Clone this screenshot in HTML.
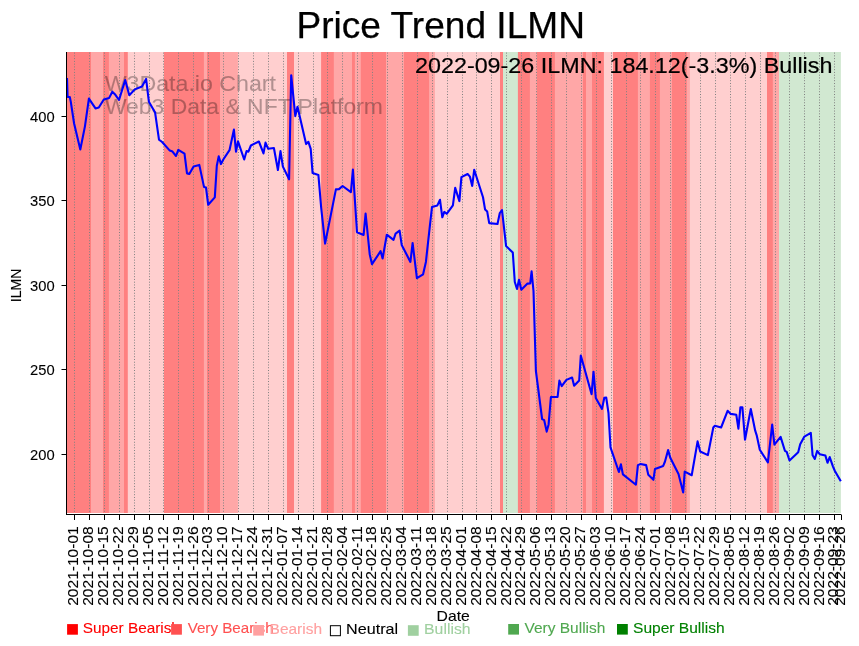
<!DOCTYPE html><html><head><meta charset="utf-8"><style>html,body{margin:0;padding:0;background:#fff;width:859px;height:646px;overflow:hidden;position:relative}</style></head><body><svg width="859" height="646" viewBox="0 0 859 646" style="position:absolute;left:0;top:0;will-change:transform" font-family='"Liberation Sans", sans-serif'>
<rect x="0" y="0" width="859" height="646" fill="#fff"/>
<rect x="67.00" y="52.0" width="25.00" height="461.0" fill="#ff8080"/>
<rect x="91.00" y="52.0" width="13.00" height="461.0" fill="#ffa7a7"/>
<rect x="103.00" y="52.0" width="6.90" height="461.0" fill="#ff8080"/>
<rect x="108.90" y="52.0" width="16.10" height="461.0" fill="#ffa7a7"/>
<rect x="124.00" y="52.0" width="4.80" height="461.0" fill="#ff8080"/>
<rect x="127.80" y="52.0" width="37.20" height="461.0" fill="#ffcfcf"/>
<rect x="164.00" y="52.0" width="40.90" height="461.0" fill="#ff8080"/>
<rect x="203.90" y="52.0" width="4.10" height="461.0" fill="#ffa7a7"/>
<rect x="207.00" y="52.0" width="14.00" height="461.0" fill="#ff8080"/>
<rect x="220.00" y="52.0" width="18.90" height="461.0" fill="#ffa7a7"/>
<rect x="237.90" y="52.0" width="50.10" height="461.0" fill="#ffcfcf"/>
<rect x="287.00" y="52.0" width="8.00" height="461.0" fill="#ff8080"/>
<rect x="294.00" y="52.0" width="28.10" height="461.0" fill="#ffcfcf"/>
<rect x="321.10" y="52.0" width="13.70" height="461.0" fill="#ff8080"/>
<rect x="333.80" y="52.0" width="19.20" height="461.0" fill="#ffa7a7"/>
<rect x="352.00" y="52.0" width="3.90" height="461.0" fill="#ff8080"/>
<rect x="354.90" y="52.0" width="6.90" height="461.0" fill="#ffa7a7"/>
<rect x="360.80" y="52.0" width="26.20" height="461.0" fill="#ff8080"/>
<rect x="386.00" y="52.0" width="18.90" height="461.0" fill="#ffa7a7"/>
<rect x="403.90" y="52.0" width="26.20" height="461.0" fill="#ff8080"/>
<rect x="429.10" y="52.0" width="6.80" height="461.0" fill="#ffa7a7"/>
<rect x="434.90" y="52.0" width="66.10" height="461.0" fill="#ffcfcf"/>
<rect x="500.00" y="52.0" width="4.00" height="461.0" fill="#ff8080"/>
<rect x="503.00" y="52.0" width="15.90" height="461.0" fill="#d1e8d1"/>
<rect x="517.90" y="52.0" width="13.00" height="461.0" fill="#ff8080"/>
<rect x="529.90" y="52.0" width="8.00" height="461.0" fill="#ffa7a7"/>
<rect x="536.90" y="52.0" width="19.00" height="461.0" fill="#ff8080"/>
<rect x="554.90" y="52.0" width="29.00" height="461.0" fill="#ffa7a7"/>
<rect x="582.90" y="52.0" width="4.10" height="461.0" fill="#ff8080"/>
<rect x="586.00" y="52.0" width="7.00" height="461.0" fill="#ffa7a7"/>
<rect x="592.00" y="52.0" width="12.90" height="461.0" fill="#ff8080"/>
<rect x="603.90" y="52.0" width="10.10" height="461.0" fill="#ffcfcf"/>
<rect x="613.00" y="52.0" width="25.90" height="461.0" fill="#ff8080"/>
<rect x="637.90" y="52.0" width="13.00" height="461.0" fill="#ffa7a7"/>
<rect x="649.90" y="52.0" width="11.00" height="461.0" fill="#ff8080"/>
<rect x="659.90" y="52.0" width="13.00" height="461.0" fill="#ffa7a7"/>
<rect x="671.90" y="52.0" width="15.90" height="461.0" fill="#ff8080"/>
<rect x="686.80" y="52.0" width="4.10" height="461.0" fill="#ffa7a7"/>
<rect x="689.90" y="52.0" width="78.10" height="461.0" fill="#ffcfcf"/>
<rect x="767.00" y="52.0" width="6.80" height="461.0" fill="#ff8080"/>
<rect x="772.80" y="52.0" width="7.20" height="461.0" fill="#ffa7a7"/>
<rect x="779.00" y="52.0" width="61.90" height="461.0" fill="#d1e8d1"/>
<g fill="#000" stroke="#000" stroke-width="0.3" opacity="0.3" font-size="21.3">
<text x="104.72" y="90.7" textLength="171.2" lengthAdjust="spacingAndGlyphs" stroke="#000" stroke-width="0.1">W3Data.io Chart</text>
<text x="104.92" y="113.5" textLength="278" lengthAdjust="spacingAndGlyphs" stroke="#000" stroke-width="0.1">Web3 Data &amp; NFT Platform</text>
</g>
<path d="M74.50 52.0V513.0M89.50 52.0V513.0M104.50 52.0V513.0M119.50 52.0V513.0M134.50 52.0V513.0M149.50 52.0V513.0M163.50 52.0V513.0M178.50 52.0V513.0M193.50 52.0V513.0M208.50 52.0V513.0M223.50 52.0V513.0M238.50 52.0V513.0M253.50 52.0V513.0M268.50 52.0V513.0M283.50 52.0V513.0M298.50 52.0V513.0M313.50 52.0V513.0M327.50 52.0V513.0M342.50 52.0V513.0M357.50 52.0V513.0M372.50 52.0V513.0M387.50 52.0V513.0M402.50 52.0V513.0M417.50 52.0V513.0M432.50 52.0V513.0M447.50 52.0V513.0M462.50 52.0V513.0M476.50 52.0V513.0M491.50 52.0V513.0M506.50 52.0V513.0M521.50 52.0V513.0M536.50 52.0V513.0M551.50 52.0V513.0M566.50 52.0V513.0M581.50 52.0V513.0M596.50 52.0V513.0M611.50 52.0V513.0M626.50 52.0V513.0M640.50 52.0V513.0M655.50 52.0V513.0M670.50 52.0V513.0M685.50 52.0V513.0M700.50 52.0V513.0M715.50 52.0V513.0M730.50 52.0V513.0M745.50 52.0V513.0M760.50 52.0V513.0M775.50 52.0V513.0M789.50 52.0V513.0M804.50 52.0V513.0M819.50 52.0V513.0M834.50 52.0V513.0" stroke="#808080" stroke-width="1" stroke-dasharray="1 1.76" stroke-dashoffset="-0.6" fill="none"/>
<polyline points="67.0,78.0 67.6,97.0 69.8,97.0 70.8,101.9 74.1,123.5 80.3,149.5 84.9,126.6 88.9,98.6 95.5,108.4 98.8,107.5 103.8,99.5 109.2,97.9 112.3,91.7 115.4,94.8 119.0,100.0 125.2,80.1 129.3,95.3 134.8,89.4 142.0,86.5 146.1,78.9 148.9,101.8 155.1,112.6 159.0,139.7 162.1,142.0 169.8,150.6 172.5,151.6 176.0,156.0 178.3,149.8 184.5,153.7 187.0,173.4 189.3,173.9 193.6,166.4 199.3,164.9 204.0,186.9 206.0,187.6 208.2,204.8 214.8,197.4 216.8,165.7 218.7,156.4 221.0,164.1 223.3,159.5 229.5,150.2 233.9,129.6 236.0,151.7 238.0,141.4 244.2,159.5 246.6,151.0 248.4,151.7 250.9,145.5 258.9,141.5 263.5,153.4 265.5,142.6 268.2,148.8 273.9,148.0 277.9,170.0 280.5,151.1 282.9,166.6 289.1,179.3 291.2,75.2 295.3,116.1 297.5,106.8 306.1,144.1 308.4,141.8 310.7,148.8 312.6,173.1 318.4,175.0 321.2,208.0 325.1,243.6 335.9,189.4 339.0,189.1 342.6,186.0 350.9,192.2 352.9,169.6 357.0,232.3 363.6,234.9 365.6,213.5 369.7,254.2 372.0,264.2 380.6,251.2 382.6,258.5 386.8,234.7 393.5,239.8 395.6,233.7 399.6,230.7 401.7,244.9 410.4,261.9 412.6,243.0 416.9,278.2 423.1,274.3 425.9,261.9 430.5,220.1 432.0,207.0 437.4,205.4 440.0,199.8 442.3,217.3 444.3,211.9 446.7,213.8 452.9,205.4 455.2,187.9 459.4,201.1 461.4,177.1 467.6,174.0 469.9,176.6 472.2,185.9 474.2,169.8 483.0,197.2 485.1,209.6 487.2,211.6 489.2,223.1 497.5,224.0 499.8,213.0 502.0,210.0 506.1,246.1 512.8,252.6 514.8,282.0 517.0,289.0 519.0,279.7 521.3,289.8 527.5,283.6 530.2,283.4 531.6,271.3 533.5,291.0 535.9,371.0 542.1,419.0 544.2,420.2 546.7,431.6 548.6,424.4 550.9,397.0 557.6,397.0 559.4,380.6 561.7,386.1 566.4,379.9 572.1,377.5 574.1,385.7 579.2,380.6 580.8,355.5 591.6,394.2 593.5,371.7 595.8,398.0 602.0,408.9 604.3,397.8 606.2,397.5 608.5,413.2 610.5,447.3 618.9,472.0 620.9,464.3 622.9,474.4 635.9,484.7 637.9,465.1 640.6,464.0 646.1,465.1 648.3,474.8 653.4,479.8 655.0,468.9 663.2,465.9 665.0,461.5 668.1,450.1 670.4,458.1 678.5,474.0 683.2,492.5 684.7,471.6 691.7,475.2 697.6,441.4 700.2,451.5 707.9,455.1 713.3,427.5 714.9,425.7 721.1,427.5 727.6,410.8 730.7,413.9 736.3,414.8 738.4,428.7 740.4,407.4 742.4,407.4 745.0,439.7 750.8,409.0 755.2,430.7 756.7,435.3 759.8,449.7 767.9,462.4 772.2,424.5 774.4,444.6 780.6,436.9 784.9,450.8 786.7,451.9 789.5,460.5 798.2,452.2 800.2,444.2 804.4,436.6 810.8,432.9 812.6,455.3 814.8,459.0 817.2,450.9 819.7,454.2 825.4,455.6 827.5,462.8 829.7,457.1 833.0,466.6 834.9,471.0 840.8,481.2" fill="none" stroke="#0000ff" stroke-width="2.1" stroke-linejoin="round" stroke-linecap="butt"/>
<path d="M66.5 52.0V515.0M66.0 514.5H841.5" stroke="#000" stroke-width="1" fill="none"/>
<path d="M74.50 515V520M89.50 515V520M104.50 515V520M119.50 515V520M134.50 515V520M149.50 515V520M163.50 515V520M178.50 515V520M193.50 515V520M208.50 515V520M223.50 515V520M238.50 515V520M253.50 515V520M268.50 515V520M283.50 515V520M298.50 515V520M313.50 515V520M327.50 515V520M342.50 515V520M357.50 515V520M372.50 515V520M387.50 515V520M402.50 515V520M417.50 515V520M432.50 515V520M447.50 515V520M462.50 515V520M476.50 515V520M491.50 515V520M506.50 515V520M521.50 515V520M536.50 515V520M551.50 515V520M566.50 515V520M581.50 515V520M596.50 515V520M611.50 515V520M626.50 515V520M640.50 515V520M655.50 515V520M670.50 515V520M685.50 515V520M700.50 515V520M715.50 515V520M730.50 515V520M745.50 515V520M760.50 515V520M775.50 515V520M789.50 515V520M804.50 515V520M819.50 515V520M834.50 515V520M841.50 515V520" stroke="#000" stroke-width="1" fill="none"/>
<text x="30.14" y="459.70" font-size="14.3" textLength="24.58" lengthAdjust="spacingAndGlyphs" stroke="#000" stroke-width="0.1">200</text>
<text x="30.14" y="375.23" font-size="14.3" textLength="24.58" lengthAdjust="spacingAndGlyphs" stroke="#000" stroke-width="0.1">250</text>
<text x="30.14" y="290.75" font-size="14.3" textLength="24.58" lengthAdjust="spacingAndGlyphs" stroke="#000" stroke-width="0.1">300</text>
<text x="30.14" y="206.28" font-size="14.3" textLength="24.58" lengthAdjust="spacingAndGlyphs" stroke="#000" stroke-width="0.1">350</text>
<text x="30.14" y="121.80" font-size="14.3" textLength="24.58" lengthAdjust="spacingAndGlyphs" stroke="#000" stroke-width="0.1">400</text>
<path d="M61.5 454.50H66.5M61.5 369.50H66.5M61.5 285.50H66.5M61.5 200.50H66.5M61.5 116.50H66.5" stroke="#000" stroke-width="1.1" fill="none"/>
<text transform="translate(78.30,605.8) rotate(-90)" font-size="14.3" textLength="79.54" lengthAdjust="spacingAndGlyphs" stroke="#000" stroke-width="0.1">2021-10-01</text>
<text transform="translate(93.21,605.8) rotate(-90)" font-size="14.3" textLength="79.54" lengthAdjust="spacingAndGlyphs" stroke="#000" stroke-width="0.1">2021-10-08</text>
<text transform="translate(108.11,605.8) rotate(-90)" font-size="14.3" textLength="79.54" lengthAdjust="spacingAndGlyphs" stroke="#000" stroke-width="0.1">2021-10-15</text>
<text transform="translate(123.02,605.8) rotate(-90)" font-size="14.3" textLength="79.54" lengthAdjust="spacingAndGlyphs" stroke="#000" stroke-width="0.1">2021-10-22</text>
<text transform="translate(137.92,605.8) rotate(-90)" font-size="14.3" textLength="79.54" lengthAdjust="spacingAndGlyphs" stroke="#000" stroke-width="0.1">2021-10-29</text>
<text transform="translate(152.83,605.8) rotate(-90)" font-size="14.3" textLength="79.54" lengthAdjust="spacingAndGlyphs" stroke="#000" stroke-width="0.1">2021-11-05</text>
<text transform="translate(167.73,605.8) rotate(-90)" font-size="14.3" textLength="79.54" lengthAdjust="spacingAndGlyphs" stroke="#000" stroke-width="0.1">2021-11-12</text>
<text transform="translate(182.64,605.8) rotate(-90)" font-size="14.3" textLength="79.54" lengthAdjust="spacingAndGlyphs" stroke="#000" stroke-width="0.1">2021-11-19</text>
<text transform="translate(197.54,605.8) rotate(-90)" font-size="14.3" textLength="79.54" lengthAdjust="spacingAndGlyphs" stroke="#000" stroke-width="0.1">2021-11-26</text>
<text transform="translate(212.45,605.8) rotate(-90)" font-size="14.3" textLength="79.54" lengthAdjust="spacingAndGlyphs" stroke="#000" stroke-width="0.1">2021-12-03</text>
<text transform="translate(227.35,605.8) rotate(-90)" font-size="14.3" textLength="79.54" lengthAdjust="spacingAndGlyphs" stroke="#000" stroke-width="0.1">2021-12-10</text>
<text transform="translate(242.26,605.8) rotate(-90)" font-size="14.3" textLength="79.54" lengthAdjust="spacingAndGlyphs" stroke="#000" stroke-width="0.1">2021-12-17</text>
<text transform="translate(257.16,605.8) rotate(-90)" font-size="14.3" textLength="79.54" lengthAdjust="spacingAndGlyphs" stroke="#000" stroke-width="0.1">2021-12-24</text>
<text transform="translate(272.07,605.8) rotate(-90)" font-size="14.3" textLength="79.54" lengthAdjust="spacingAndGlyphs" stroke="#000" stroke-width="0.1">2021-12-31</text>
<text transform="translate(286.97,605.8) rotate(-90)" font-size="14.3" textLength="79.54" lengthAdjust="spacingAndGlyphs" stroke="#000" stroke-width="0.1">2022-01-07</text>
<text transform="translate(301.88,605.8) rotate(-90)" font-size="14.3" textLength="79.54" lengthAdjust="spacingAndGlyphs" stroke="#000" stroke-width="0.1">2022-01-14</text>
<text transform="translate(316.78,605.8) rotate(-90)" font-size="14.3" textLength="79.54" lengthAdjust="spacingAndGlyphs" stroke="#000" stroke-width="0.1">2022-01-21</text>
<text transform="translate(331.69,605.8) rotate(-90)" font-size="14.3" textLength="79.54" lengthAdjust="spacingAndGlyphs" stroke="#000" stroke-width="0.1">2022-01-28</text>
<text transform="translate(346.59,605.8) rotate(-90)" font-size="14.3" textLength="79.54" lengthAdjust="spacingAndGlyphs" stroke="#000" stroke-width="0.1">2022-02-04</text>
<text transform="translate(361.50,605.8) rotate(-90)" font-size="14.3" textLength="79.54" lengthAdjust="spacingAndGlyphs" stroke="#000" stroke-width="0.1">2022-02-11</text>
<text transform="translate(376.40,605.8) rotate(-90)" font-size="14.3" textLength="79.54" lengthAdjust="spacingAndGlyphs" stroke="#000" stroke-width="0.1">2022-02-18</text>
<text transform="translate(391.31,605.8) rotate(-90)" font-size="14.3" textLength="79.54" lengthAdjust="spacingAndGlyphs" stroke="#000" stroke-width="0.1">2022-02-25</text>
<text transform="translate(406.21,605.8) rotate(-90)" font-size="14.3" textLength="79.54" lengthAdjust="spacingAndGlyphs" stroke="#000" stroke-width="0.1">2022-03-04</text>
<text transform="translate(421.12,605.8) rotate(-90)" font-size="14.3" textLength="79.54" lengthAdjust="spacingAndGlyphs" stroke="#000" stroke-width="0.1">2022-03-11</text>
<text transform="translate(436.02,605.8) rotate(-90)" font-size="14.3" textLength="79.54" lengthAdjust="spacingAndGlyphs" stroke="#000" stroke-width="0.1">2022-03-18</text>
<text transform="translate(450.93,605.8) rotate(-90)" font-size="14.3" textLength="79.54" lengthAdjust="spacingAndGlyphs" stroke="#000" stroke-width="0.1">2022-03-25</text>
<text transform="translate(465.83,605.8) rotate(-90)" font-size="14.3" textLength="79.54" lengthAdjust="spacingAndGlyphs" stroke="#000" stroke-width="0.1">2022-04-01</text>
<text transform="translate(480.74,605.8) rotate(-90)" font-size="14.3" textLength="79.54" lengthAdjust="spacingAndGlyphs" stroke="#000" stroke-width="0.1">2022-04-08</text>
<text transform="translate(495.64,605.8) rotate(-90)" font-size="14.3" textLength="79.54" lengthAdjust="spacingAndGlyphs" stroke="#000" stroke-width="0.1">2022-04-15</text>
<text transform="translate(510.55,605.8) rotate(-90)" font-size="14.3" textLength="79.54" lengthAdjust="spacingAndGlyphs" stroke="#000" stroke-width="0.1">2022-04-22</text>
<text transform="translate(525.45,605.8) rotate(-90)" font-size="14.3" textLength="79.54" lengthAdjust="spacingAndGlyphs" stroke="#000" stroke-width="0.1">2022-04-29</text>
<text transform="translate(540.36,605.8) rotate(-90)" font-size="14.3" textLength="79.54" lengthAdjust="spacingAndGlyphs" stroke="#000" stroke-width="0.1">2022-05-06</text>
<text transform="translate(555.26,605.8) rotate(-90)" font-size="14.3" textLength="79.54" lengthAdjust="spacingAndGlyphs" stroke="#000" stroke-width="0.1">2022-05-13</text>
<text transform="translate(570.17,605.8) rotate(-90)" font-size="14.3" textLength="79.54" lengthAdjust="spacingAndGlyphs" stroke="#000" stroke-width="0.1">2022-05-20</text>
<text transform="translate(585.07,605.8) rotate(-90)" font-size="14.3" textLength="79.54" lengthAdjust="spacingAndGlyphs" stroke="#000" stroke-width="0.1">2022-05-27</text>
<text transform="translate(599.98,605.8) rotate(-90)" font-size="14.3" textLength="79.54" lengthAdjust="spacingAndGlyphs" stroke="#000" stroke-width="0.1">2022-06-03</text>
<text transform="translate(614.88,605.8) rotate(-90)" font-size="14.3" textLength="79.54" lengthAdjust="spacingAndGlyphs" stroke="#000" stroke-width="0.1">2022-06-10</text>
<text transform="translate(629.79,605.8) rotate(-90)" font-size="14.3" textLength="79.54" lengthAdjust="spacingAndGlyphs" stroke="#000" stroke-width="0.1">2022-06-17</text>
<text transform="translate(644.69,605.8) rotate(-90)" font-size="14.3" textLength="79.54" lengthAdjust="spacingAndGlyphs" stroke="#000" stroke-width="0.1">2022-06-24</text>
<text transform="translate(659.60,605.8) rotate(-90)" font-size="14.3" textLength="79.54" lengthAdjust="spacingAndGlyphs" stroke="#000" stroke-width="0.1">2022-07-01</text>
<text transform="translate(674.50,605.8) rotate(-90)" font-size="14.3" textLength="79.54" lengthAdjust="spacingAndGlyphs" stroke="#000" stroke-width="0.1">2022-07-08</text>
<text transform="translate(689.41,605.8) rotate(-90)" font-size="14.3" textLength="79.54" lengthAdjust="spacingAndGlyphs" stroke="#000" stroke-width="0.1">2022-07-15</text>
<text transform="translate(704.31,605.8) rotate(-90)" font-size="14.3" textLength="79.54" lengthAdjust="spacingAndGlyphs" stroke="#000" stroke-width="0.1">2022-07-22</text>
<text transform="translate(719.22,605.8) rotate(-90)" font-size="14.3" textLength="79.54" lengthAdjust="spacingAndGlyphs" stroke="#000" stroke-width="0.1">2022-07-29</text>
<text transform="translate(734.12,605.8) rotate(-90)" font-size="14.3" textLength="79.54" lengthAdjust="spacingAndGlyphs" stroke="#000" stroke-width="0.1">2022-08-05</text>
<text transform="translate(749.03,605.8) rotate(-90)" font-size="14.3" textLength="79.54" lengthAdjust="spacingAndGlyphs" stroke="#000" stroke-width="0.1">2022-08-12</text>
<text transform="translate(763.93,605.8) rotate(-90)" font-size="14.3" textLength="79.54" lengthAdjust="spacingAndGlyphs" stroke="#000" stroke-width="0.1">2022-08-19</text>
<text transform="translate(778.84,605.8) rotate(-90)" font-size="14.3" textLength="79.54" lengthAdjust="spacingAndGlyphs" stroke="#000" stroke-width="0.1">2022-08-26</text>
<text transform="translate(793.74,605.8) rotate(-90)" font-size="14.3" textLength="79.54" lengthAdjust="spacingAndGlyphs" stroke="#000" stroke-width="0.1">2022-09-02</text>
<text transform="translate(808.65,605.8) rotate(-90)" font-size="14.3" textLength="79.54" lengthAdjust="spacingAndGlyphs" stroke="#000" stroke-width="0.1">2022-09-09</text>
<text transform="translate(823.56,605.8) rotate(-90)" font-size="14.3" textLength="79.54" lengthAdjust="spacingAndGlyphs" stroke="#000" stroke-width="0.1">2022-09-16</text>
<text transform="translate(838.46,605.8) rotate(-90)" font-size="14.3" textLength="79.54" lengthAdjust="spacingAndGlyphs" stroke="#000" stroke-width="0.1">2022-09-23</text>
<text transform="translate(844.85,605.8) rotate(-90)" font-size="14.3" textLength="79.54" lengthAdjust="spacingAndGlyphs" stroke="#000" stroke-width="0.1">2022-09-26</text>
<text transform="translate(20.9,302.2) rotate(-90)" font-size="14.3" textLength="33.68" lengthAdjust="spacingAndGlyphs" stroke="#000" stroke-width="0.1">ILMN</text>
<text x="436.6" y="620.9" font-size="14.3" textLength="33.17" lengthAdjust="spacingAndGlyphs" stroke="#000" stroke-width="0.1">Date</text>
<text x="296.51" y="38.1" font-size="36" textLength="288.41" lengthAdjust="spacingAndGlyphs" stroke="#000" stroke-width="0.25">Price Trend ILMN</text>
<text x="415.01" y="72.9" font-size="22.8" textLength="417.4" lengthAdjust="spacingAndGlyphs" stroke="#000" stroke-width="0.2">2022-09-26 ILMN: 184.12(-3.3%) Bullish</text>
<text x="82.77" y="633.0" font-size="14.3" textLength="97.14" lengthAdjust="spacingAndGlyphs" fill="#ff0000" stroke="#ff0000" stroke-width="0.1">Super Bearish</text>
<rect x="67.1" y="624.1" width="10.8" height="10.6" fill="#ff0000"/>
<text x="187.68" y="633.0" font-size="14.3" textLength="85.94" lengthAdjust="spacingAndGlyphs" fill="#ff5050" stroke="#ff5050" stroke-width="0.1">Very Bearish</text>
<rect x="171.1" y="624.1" width="10.8" height="10.6" fill="#ff5050"/>
<text x="269.61" y="633.9" font-size="14.3" textLength="52.43" lengthAdjust="spacingAndGlyphs" fill="#ffa0a0" stroke="#ffa0a0" stroke-width="0.1">Bearish</text>
<rect x="253.2" y="625.0" width="10.8" height="10.6" fill="#ffa0a0"/>
<text x="346.06" y="634.1" font-size="14.3" textLength="52.02" lengthAdjust="spacingAndGlyphs" fill="#000" stroke="#000" stroke-width="0.1">Neutral</text>
<rect x="330.4" y="625.7" width="10" height="10" fill="none" stroke="#000" stroke-width="1"/>
<text x="424.09" y="634.1" font-size="14.3" textLength="46.54" lengthAdjust="spacingAndGlyphs" fill="#a0d0a0" stroke="#a0d0a0" stroke-width="0.1">Bullish</text>
<rect x="407.9" y="625.2" width="10.8" height="10.6" fill="#a0d0a0"/>
<text x="524.47" y="632.9" font-size="14.3" textLength="80.91" lengthAdjust="spacingAndGlyphs" fill="#50a850" stroke="#50a850" stroke-width="0.1">Very Bullish</text>
<rect x="508.2" y="624.0" width="10.8" height="10.6" fill="#50a850"/>
<text x="633.06" y="632.9" font-size="14.3" textLength="91.62" lengthAdjust="spacingAndGlyphs" fill="#008000" stroke="#008000" stroke-width="0.1">Super Bullish</text>
<rect x="617.0" y="624.0" width="10.8" height="10.6" fill="#008000"/>
</svg></body></html>
